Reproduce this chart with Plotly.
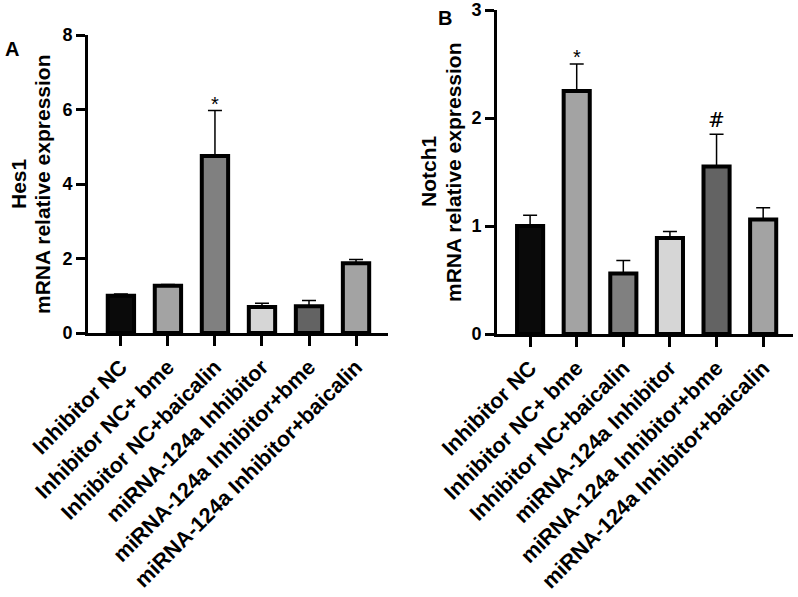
import plotly.graph_objects as go

categories = ["Inhibitor NC", "Inhibitor NC+ bme", "Inhibitor NC+baicalin",
              "miRNA-124a Inhibitor", "miRNA-124a Inhibitor+bme",
              "miRNA-124a Inhibitor+baicalin"]

hes1_mean = [1.0, 1.27, 4.75, 0.70, 0.72, 1.87]
hes1_err = [0.05, 0.03, 1.22, 0.10, 0.15, 0.10]

notch1_mean = [1.0, 2.25, 0.56, 0.89, 1.55, 1.06]
notch1_err = [0.10, 0.25, 0.12, 0.06, 0.30, 0.11]

bar_colors = ["#0a0a0a", "#a3a3a3", "#808080", "#d6d6d6", "#636363", "#a3a3a3"]

hes1_marks = ["", "", "*", "", "", ""]
notch1_marks = ["", "*", "", "", "#", ""]

FONT = "Liberation Sans, Arial, sans-serif"
W, H = 798, 597


def px(x):
    return x / W


def py(y):
    return 1 - y / H


fig = go.Figure()

for xa, ya, mean, err in [("x", "y", hes1_mean, hes1_err),
                          ("x2", "y2", notch1_mean, notch1_err)]:
    fig.add_trace(go.Bar(
        x=categories, y=mean, xaxis=xa, yaxis=ya, width=0.56,
        marker=dict(color=bar_colors, line=dict(color="black", width=4)),
        error_y=dict(type="data", array=err, arrayminus=[0] * len(err),
                     symmetric=False, color="black", thickness=1.5, width=7),
        showlegend=False,
    ))

# annotations for significance marks
annots = []
for xr, yr, mean, err, marks in [("x", "y", hes1_mean, hes1_err, hes1_marks),
                                 ("x2", "y2", notch1_mean, notch1_err, notch1_marks)]:
    for c, m, e, s in zip(categories, mean, err, marks):
        if s:
            annots.append(dict(
                x=c, y=m + e, xref=xr, yref=yr, text=s, showarrow=False,
                yanchor="bottom", xanchor="center",
                yshift=-6 if s == "*" else 0,
                font=dict(family=FONT if s == "*" else "DejaVu Serif", size=20, color="black")))

# panel letters
annots.append(dict(x=px(12), y=py(49), xref="paper", yref="paper", text="A",
                   showarrow=False, xanchor="center", yanchor="middle",
                   font=dict(family=FONT, size=20, color="black", weight="bold")))
annots.append(dict(x=px(445), y=py(18), xref="paper", yref="paper", text="B",
                   showarrow=False, xanchor="center", yanchor="middle",
                   font=dict(family=FONT, size=20, color="black", weight="bold")))

# y-axis titles (two lines each)
for xpix, ypix, txt in [(19, 184, "Hes1"), (43, 184, "mRNA relative expression"),
                        (428, 172, "Notch1"), (453, 172, "mRNA relative expression")]:
    annots.append(dict(x=px(xpix), y=py(ypix), xref="paper", yref="paper", text=txt,
                       showarrow=False, textangle=-90, xanchor="center", yanchor="middle",
                       font=dict(family=FONT, size=21, color="black", weight="bold")))

xcommon = dict(showline=True, linewidth=3, linecolor="black", ticks="outside",
               ticklen=10, tickwidth=3, tickcolor="black", tickangle=-45,
               tickfont=dict(family=FONT, size=21.5, color="black", weight="bold"),
               showgrid=False, zeroline=False, type="category", automargin=False,
               ticklabeloverflow="allow")
ycommon = dict(showline=True, linewidth=3, linecolor="black", ticks="outside",
               ticklen=9, tickwidth=3, tickcolor="black",
               tickfont=dict(family=FONT, size=18, color="black", weight="bold"),
               showgrid=False, zeroline=False, automargin=False,
               ticklabeloverflow="allow")

fig.update_layout(
    width=W, height=H, margin=dict(l=0, r=0, t=0, b=0, autoexpand=False),
    paper_bgcolor="white", plot_bgcolor="white",
    xaxis=dict(domain=[px(88), px(388)], anchor="y", range=[-0.7, 5.68], **xcommon),
    yaxis=dict(domain=[py(333), py(35)], anchor="x", range=[0, 8], dtick=2, **ycommon),
    xaxis2=dict(domain=[px(497), px(793)], anchor="y2", range=[-0.71, 5.64], **xcommon),
    yaxis2=dict(domain=[py(334), py(10)], anchor="x2", range=[0, 3], dtick=1, **ycommon),
    annotations=annots,
    bargap=0.4,
)

fig.write_html("out.html", config={"displayModeBar": False},
               post_script="document.body.style.margin='0';document.body.style.overflow='hidden';")
